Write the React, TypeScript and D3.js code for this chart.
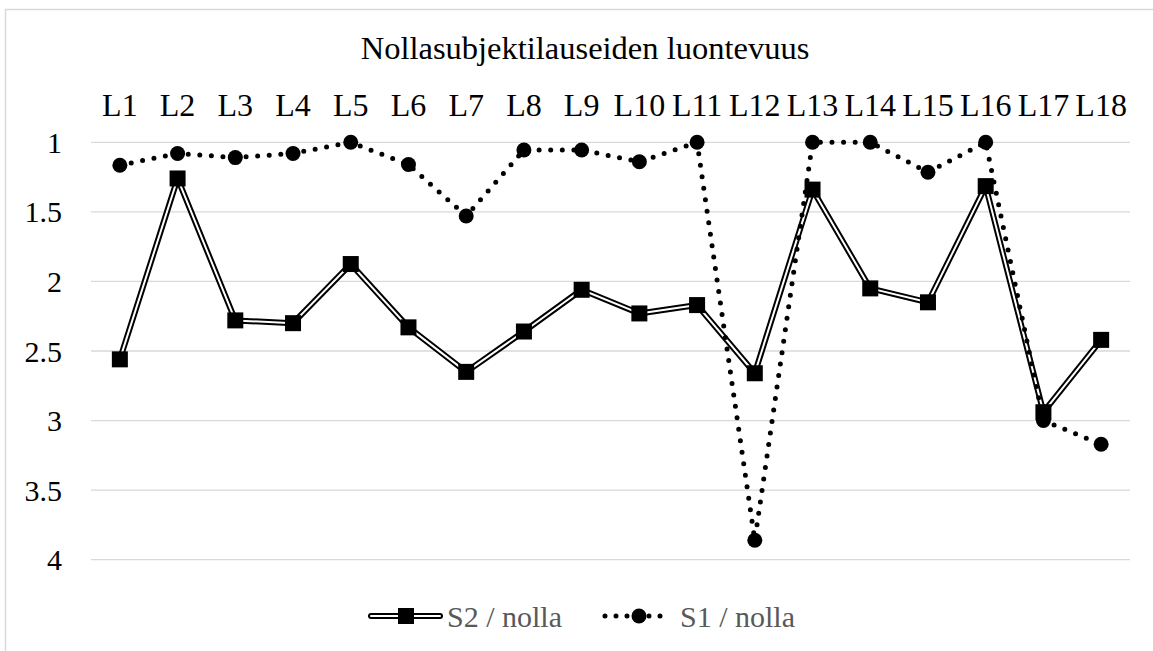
import React from "react";
import * as d3 from "d3";

const title = "Nollasubjektilauseiden luontevuus";
const categories = ["L1", "L2", "L3", "L4", "L5", "L6", "L7", "L8", "L9", "L10", "L11", "L12", "L13", "L14", "L15", "L16", "L17", "L18"];
// S2 / nolla (double line, squares)
const s2Values = [2.56, 1.26, 2.28, 2.3, 1.875, 2.33, 2.65, 2.36, 2.06, 2.23, 2.17, 2.66, 1.34, 2.05, 2.15, 1.315, 2.94, 2.42];
// S1 / nolla (dotted line, circles)
const s1Values = [1.165, 1.08, 1.11, 1.08, 1.0, 1.16, 1.53, 1.055, 1.055, 1.14, 1.0, 3.86, 1.0, 1.0, 1.215, 1.0, 3.0, 3.17];
const yTicks = [1, 1.5, 2, 2.5, 3, 3.5, 4];
const seriesNames = ["S2 / nolla", "S1 / nolla"];

const W = 1153;
const H = 651;
const FONT = "'Liberation Serif', Tinos, 'Times New Roman', serif";

const App = () => {
  // plot area
  const x = d3.scaleBand().domain(categories).range([91, 1130]);
  const y = d3.scaleLinear().domain([1, 4]).range([142.3, 559.7]);
  const cx = (d: string) => (x(d) as number) + x.bandwidth() / 2;

  const line = d3
    .line<number>()
    .x((_, i) => cx(categories[i]))
    .y((d) => y(d));

  const s2Path = line(s2Values) || "";
  const s1Path = line(s1Values) || "";

  return (
    <svg
      width={W}
      height={H}
      style={{ position: "absolute", left: 0, top: 0, background: "#fff", fontFamily: FONT }}
    >
      <rect x={5.5} y={9.5} width={1160} height={660} fill="#fff" stroke="#d9d9d9" strokeWidth={1.5} />

      <text x={585} y={59} textAnchor="middle" fontSize={32.5} fill="#000">
        {title}
      </text>

      {/* gridlines */}
      {yTicks.map((t) => (
        <line key={t} x1={91} x2={1130} y1={y(t)} y2={y(t)} stroke="#d9d9d9" strokeWidth={1.3} />
      ))}

      {/* y tick labels */}
      {yTicks.map((t) => (
        <text key={"l" + t} x={62} y={y(t) + 10.5} textAnchor="end" fontSize={30} fill="#000">
          {t}
        </text>
      ))}

      {/* category labels on top */}
      {categories.map((c) => (
        <text key={c} x={cx(c)} y={115.5} textAnchor="middle" fontSize={32} fill="#000">
          {c}
        </text>
      ))}

      {/* S2 double line */}
      <path d={s2Path} fill="none" stroke="#000" strokeWidth={6} strokeLinejoin="round" />
      <path d={s2Path} fill="none" stroke="#fff" strokeWidth={2} strokeLinejoin="round" />
      {s2Values.map((v, i) => (
        <rect key={"s2" + i} x={cx(categories[i]) - 8} y={y(v) - 8} width={16} height={16} fill="#000" />
      ))}

      {/* S1 dotted line */}
      <path d={s1Path} fill="none" stroke="#000" strokeWidth={5} strokeDasharray="0 11.6" strokeLinecap="round" />
      {s1Values.map((v, i) => (
        <circle key={"s1" + i} cx={cx(categories[i])} cy={y(v)} r={7.5} fill="#000" />
      ))}

      {/* legend */}
      <g>
        <line x1={371} x2={440} y1={616} y2={616} stroke="#000" strokeWidth={6} strokeLinecap="round" />
        <line x1={371} x2={440} y1={616} y2={616} stroke="#fff" strokeWidth={2} strokeLinecap="round" />
        <rect x={398} y={608} width={16} height={16} fill="#000" />
        <text x={447} y={626.5} fontSize={30} fill="#595959">
          {seriesNames[0]}
        </text>

        <line x1={605} x2={671} y1={616} y2={616} stroke="#000" strokeWidth={5} strokeDasharray="0 11" strokeLinecap="round" />
        <circle cx={639} cy={616} r={7.5} fill="#000" />
        <text x={680} y={626.5} fontSize={30} fill="#595959">
          {seriesNames[1]}
        </text>
      </g>
    </svg>
  );
};

export default App;
